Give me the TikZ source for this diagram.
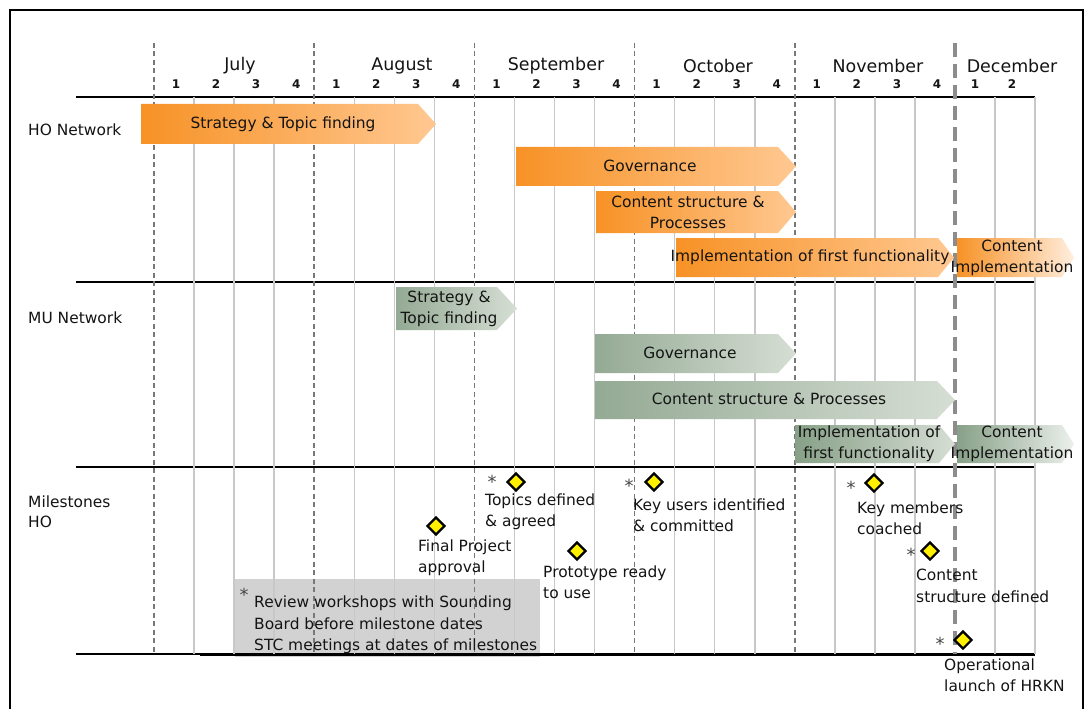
\documentclass[tikz,border=0pt]{standalone}
\usepackage{fontspec}
\setmainfont{DejaVu Sans}
\usetikzlibrary{shapes.geometric}

\definecolor{txt}{RGB}{20,20,20}
\definecolor{hoorange}{RGB}{247,146,38}
\definecolor{hopeach}{RGB}{255,200,145}
\definecolor{hopale}{RGB}{255,238,222}
\definecolor{musage}{RGB}{148,170,148}
\definecolor{musagedark}{RGB}{135,160,135}
\definecolor{mupale}{RGB}{214,222,212}
\definecolor{mupaler}{RGB}{236,240,236}
\definecolor{weekgray}{RGB}{200,200,200}
\definecolor{monthgray}{RGB}{120,120,120}
\definecolor{notegray}{RGB}{210,210,210}
\definecolor{msyellow}{RGB}{255,240,0}

% arrow-shaped activity bar: [tip depth]{style}{x1}{x2}{y1}{y2}
\newcommand\ganttbar[6][18]{%
  \path[#2] (#3,#5) -- ({#4-#1},#5) -- (#4,{(#5+#6)/2}) -- ({#4-#1},#6) -- (#3,#6) -- cycle;}
% asterisk set in a box that hugs the glyph
\newcommand\starmark{\raisebox{-7.5bp}[6.5bp][0pt]{*}}

\tikzset{
  every node/.style={inner sep=0pt, text=txt},
  rowlabel/.style={font=\fontsize{15.5}{20}\selectfont, align=left, anchor=west},
  monthlabel/.style={font=\fontsize{17.5}{20}\selectfont},
  weeklabel/.style={font=\bfseries\fontsize{12}{14}\selectfont},
  bartext/.style={font=\fontsize{15.5}{21}\selectfont, align=center},
  mstext/.style={font=\fontsize{15.5}{21.5}\selectfont, align=left, anchor=west},
  msmark/.style={diamond, draw=black, line width=2.2bp, fill=msyellow,
                 minimum width=18bp, minimum height=18bp},
  asterisk/.style={font=\fontsize{18}{18}\selectfont, text=black!72},
  rowline/.style={line width=2.5bp, black},
  weekline/.style={line width=1.5bp, weekgray},
  monthline/.style={line width=1.6bp, monthgray, dash pattern=on 5bp off 3.5bp},
  yearend/.style={line width=4bp, black!45, dash pattern=on 14bp off 7bp},
  hobar/.style={left color=hoorange, right color=hopeach},
  hobarlight/.style={left color=hoorange, right color=hopale},
  mubar/.style={left color=musage, right color=mupale},
  mubardark/.style={left color=musagedark, right color=mupale},
  mubarlight/.style={left color=musagedark, right color=mupaler},
}

\begin{document}
\begin{tikzpicture}[x=1bp, y=-1bp]
\useasboundingbox (0,0) rectangle (1085,709);
\fill[white] (0,0) rectangle (1085,709);

% outer frame (open at the bottom)
\draw[line width=2bp, black] (10,712) -- (10,10) -- (1083,10) -- (1083,712);

% note box under the grid
\fill[notegray] (235,579) rectangle (540,657);

% row separators
\foreach \y in {97,282,467,654}
  \draw[rowline] (76,\y) -- (1035,\y);
\draw[line width=1.5bp, black] (200,655.5) -- (1035,655.5);

% week lines
\foreach \m in {0,...,4}
  \foreach \w in {1,2,3}
    \draw[weekline] ({154+160.2*\m+40.05*\w},97) -- ({154+160.2*\m+40.05*\w},654);
\foreach \x in {995,1035}
  \draw[weekline] (\x,97) -- (\x,654);

% month boundaries
\foreach \m in {0,...,4}
  \draw[monthline] ({154+160.2*\m},43) -- ({154+160.2*\m},654);
\draw[yearend] (955,43) -- (955,654);

% month and week headings
\node[monthlabel] (jul) at (240,66) {July};
\node[monthlabel] (aug) at (402,66) {August};
\node[monthlabel] (sep) at (556,66) {September};
\node[monthlabel] (oct) at (718,66) {October};
\node[monthlabel] (nov) at (878,66) {November};
\node[monthlabel] (dec) at (1012,66) {December};
\foreach \m in {0,...,4}
  \foreach \w in {1,2,3,4}
    \node[weeklabel] (wk\m\w) at ({154+160.2*\m+40.05*\w-18},84) {\w};
\node[weeklabel] (wk51) at (975,84) {1};
\node[weeklabel] (wk52) at (1012,84) {2};

% row labels
\node[rowlabel] (ho) at (28,130) {HO Network};
\node[rowlabel] (mu) at (28,318) {MU Network};
\node[rowlabel] (msho) at (28,512) {Milestones\\HO};

% HO network activities
\ganttbar{hobar}{141}{436}{104}{144}
\ganttbar{hobar}{516}{796}{147}{186}
\ganttbar{hobar}{596}{796}{191}{233}
\ganttbar[16]{hobar}{676}{954}{238}{277}
\ganttbar[12]{hobarlight}{957}{1074}{238}{277}
\node[bartext] (hostrat) at (283,124) {Strategy \& Topic finding};
\node[bartext] (hogov) at (650,166) {Governance};
\node[bartext] (hocont) at (688,212) {Content structure \&\\Processes};
\node[bartext] (hoimpl) at (810,257) {Implementation of first functionality};
\node[bartext] (hocimp) at (1012,258) {Content\\Implementation};

% MU network activities
\ganttbar[20]{mubar}{396}{517}{287}{330}
\ganttbar{mubar}{595}{796}{334}{373}
\ganttbar{mubar}{595}{955}{381}{419}
\ganttbar[16]{mubardark}{795}{955}{425}{463}
\ganttbar[12]{mubarlight}{957}{1074}{425}{463}
\node[bartext] (mustrat) at (449,309) {Strategy \&\\Topic finding};
\node[bartext] (mugov) at (690,353) {Governance};
\node[bartext] (mucont) at (769,399) {Content structure \& Processes};
\node[bartext] (muimpl) at (869,444) {Implementation of\\first functionality};
\node[bartext] (mucimp) at (1012,444) {Content\\Implementation};

% HO milestones
\node[msmark] (ms1) at (516,482) {};
\node[asterisk] (st1) at (492,478) {\starmark};
\node[mstext] (mt1) at (485,512) {Topics defined\\\& agreed};

\node[msmark] (ms2) at (654,482) {};
\node[asterisk] (st2) at (629,482) {\starmark};
\node[mstext] (mt2) at (633,515) {Key users identified\\\& committed};

\node[msmark] (ms3) at (874,483) {};
\node[asterisk] (st3) at (851,484) {\starmark};
\node[mstext] (mt3) at (857,518) {Key members\\coached};

\node[msmark] (ms4) at (930,551) {};
\node[asterisk] (st4) at (911,551) {\starmark};
\node[mstext] (mt4) at (916,586) {Content\\structure defined};

\node[msmark] (ms5) at (963,640) {};
\node[asterisk] (st5) at (940,640) {\starmark};
\node[mstext] (mt5) at (944,675) {Operational\\launch of HRKN};

\node[msmark] (ms6) at (436,526) {};
\node[mstext] (mt6) at (418,558) {Final Project\\approval};

\node[msmark] (ms7) at (577,551) {};
\node[mstext] (mt7) at (543,582) {Prototype ready\\to use};

% note on reviews
\node[asterisk] (notestar) at (244,591) {\starmark};
\node[mstext] (note) at (254,625) {Review workshops with Sounding\\Board before milestone dates\\STC meetings at dates of milestones};
\end{tikzpicture}
\end{document}
